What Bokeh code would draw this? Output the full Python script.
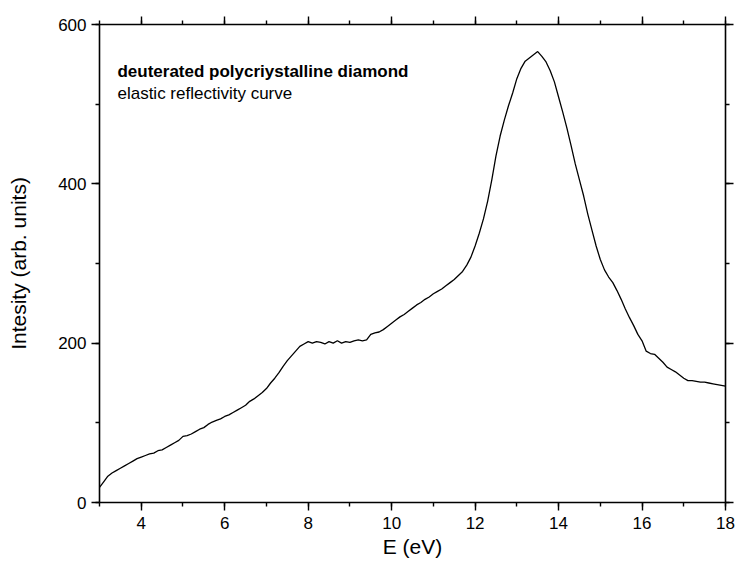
from bokeh.plotting import figure
from bokeh.models import Range1d, SingleIntervalTicker, LinearAxis, Label, CustomLabelingPolicy
from bokeh.embed import file_html
from bokeh.resources import INLINE

# Energy (eV) and intensity (arb. units)
energy = [round(3.0 + 0.1 * i, 1) for i in range(151)]
intensity = [
    19, 26, 33, 37, 40, 43, 46, 49, 52, 55,
    57, 59, 61, 62, 65, 66, 69, 72, 75, 78,
    83, 84, 86, 89, 92, 94, 98, 101, 103, 105,
    108, 110, 113, 116, 119, 122, 127, 130, 134, 138,
    143, 150, 156, 163, 171, 178, 184, 190, 196, 199,
    202, 200, 202, 201, 199, 202, 200, 203, 200, 202,
    201, 203, 204, 203, 204, 211, 213, 214, 217, 221,
    225, 229, 233, 236, 240, 244, 248, 251, 255, 258,
    262, 265, 268, 272, 276, 280, 285, 290, 298, 308,
    322, 338, 356, 378, 405, 435, 460, 480, 498, 514,
    532, 545, 554, 558, 562, 566, 560, 553, 542, 528,
    509, 490, 470, 448, 425, 405, 385, 362, 342, 322,
    305, 292, 283, 276, 266, 255, 243, 232, 222, 211,
    203, 190, 187, 186, 181, 176, 170, 167, 164, 160,
    156, 153, 153, 152, 151, 151, 150, 149, 148, 147,
    146,
]

x_label = "E (eV)"
y_label = "Intesity (arb. units)"
title_bold = "deuterated polycriystalline diamond"
title_sub = "elastic reflectivity curve"

FONT = "Liberation Sans"

p = figure(width=736, height=562, x_range=Range1d(3, 18), y_range=Range1d(0, 600),
           output_backend="svg", toolbar_location=None,
           min_border_left=99, min_border_right=11, min_border_top=24, min_border_bottom=60)
p.outline_line_color = None
p.grid.visible = False
p.background_fill_color = "white"
p.border_fill_color = "white"

no_labels = CustomLabelingPolicy(code="for (const i of indices) { indices.unset(i) }\nreturn indices")

def style_axis(ax, ticker, label=None, show_labels=True):
    ax.ticker = ticker
    ax.axis_line_width = 1.6
    ax.axis_line_color = "black"
    ax.major_tick_line_width = 1.4
    ax.minor_tick_line_width = 1.4
    ax.major_tick_line_color = "black"
    ax.minor_tick_line_color = "black"
    ax.major_tick_in = 0
    ax.major_tick_out = 8
    ax.minor_tick_in = 0
    ax.minor_tick_out = 4
    ax.major_label_text_font = FONT
    ax.axis_label_text_font = FONT
    ax.axis_label_text_font_style = "normal"
    ax.major_label_text_color = "black"
    ax.axis_label_text_color = "black"
    if show_labels:
        ax.major_label_text_font_size = "17px"
        ax.axis_label_text_font_size = "21px"
        ax.axis_label = label
    else:
        ax.major_label_text_font_size = "0px"
        ax.major_label_standoff = 0
        ax.major_label_policy = no_labels
        ax.axis_label = None

xtick = SingleIntervalTicker(interval=2, num_minor_ticks=2)
ytick = SingleIntervalTicker(interval=200, num_minor_ticks=2)

xb = p.below[0]
yl = p.left[0]
style_axis(xb, xtick, x_label)
style_axis(yl, ytick, y_label)
xb.major_label_standoff = 6
xb.axis_label_standoff = 3
yl.major_label_standoff = 5
yl.axis_label_standoff = 25

xa = LinearAxis()
style_axis(xa, SingleIntervalTicker(interval=2, num_minor_ticks=2), show_labels=False)
yr = LinearAxis()
style_axis(yr, SingleIntervalTicker(interval=200, num_minor_ticks=2), show_labels=False)
p.add_layout(xa, "above")
p.add_layout(yr, "right")

p.line(energy, intensity, line_color="black", line_width=1.3)

p.add_layout(Label(x=3.43, y=541.6, text=title_bold, text_font=FONT, text_font_size="17px",
                   text_font_style="bold", text_color="black", text_baseline="alphabetic"))
p.add_layout(Label(x=3.43, y=513.7, text=title_sub, text_font=FONT, text_font_size="17px",
                   text_color="black", text_baseline="alphabetic"))

open("out.html", "w").write(file_html(p, INLINE))
